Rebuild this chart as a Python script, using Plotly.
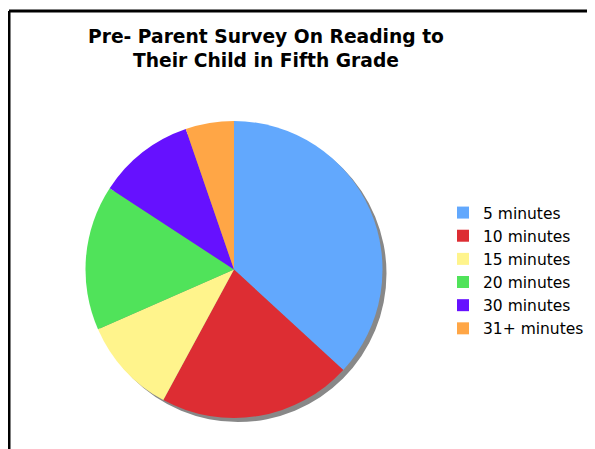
import plotly.graph_objects as go

categories = ["5 minutes", "10 minutes", "15 minutes", "20 minutes", "30 minutes", "31+ minutes"]
values = [7, 4, 2, 3, 2, 1]
colors = ["#62A8FD", "#DD2D33", "#FFF48C", "#50E35A", "#6611FF", "#FFA646"]

# page body has an 8px margin, so figure pixel = window pixel - 8
W, H = 587, 441
cx, cy, r = 226, 261.5, 148.5
sh = 4  # shadow offset


def dom(x0, y0, rad):
    return dict(x=[(x0 - rad) / W, (x0 + rad) / W], y=[1 - (y0 + rad) / H, 1 - (y0 - rad) / H])


fig = go.Figure()
fig.add_trace(go.Pie(
    values=[1], labels=["shadow"], marker=dict(colors=["#888888"], line=dict(width=0)),
    domain=dom(cx + sh, cy + sh, r), textinfo="none", hoverinfo="skip",
    showlegend=False, sort=False,
))
fig.add_trace(go.Pie(
    labels=categories, values=values, marker=dict(colors=colors, line=dict(width=0)),
    domain=dom(cx, cy, r), textinfo="none", sort=False, direction="clockwise",
    rotation=0,
))

fig.update_layout(
    width=W, height=H,
    margin=dict(l=0, r=0, t=0, b=0),
    paper_bgcolor="white", plot_bgcolor="white",
    font=dict(family="DejaVu Sans", color="black"),
    showlegend=True,
    legend=dict(x=435 / W, y=1 - 188 / H, xanchor="left", yanchor="top",
                font=dict(size=15.5, family="DejaVu Sans", color="black"),
                tracegroupgap=0, itemwidth=30, bgcolor="rgba(0,0,0,0)"),
    annotations=[dict(
        text="<b>Pre- Parent Survey On Reading to<br>Their Child in Fifth Grade</b>",
        x=258 / W, y=1 - 16 / H, xref="paper", yref="paper", xanchor="center", yanchor="top",
        showarrow=False, align="center", font=dict(size=18.7, family="DejaVu Sans", color="black"),
    )],
    shapes=[
        dict(type="line", xref="paper", yref="paper", x0=1 / W, x1=1.01, y0=1 - 3 / H, y1=1 - 3 / H,
             line=dict(color="black", width=3)),
        dict(type="line", xref="paper", yref="paper", x0=1 / W, x1=1 / W, y0=1 - 3 / H, y1=-0.01,
             line=dict(color="black", width=3)),
    ],
)

fig.write_html("out.html")
